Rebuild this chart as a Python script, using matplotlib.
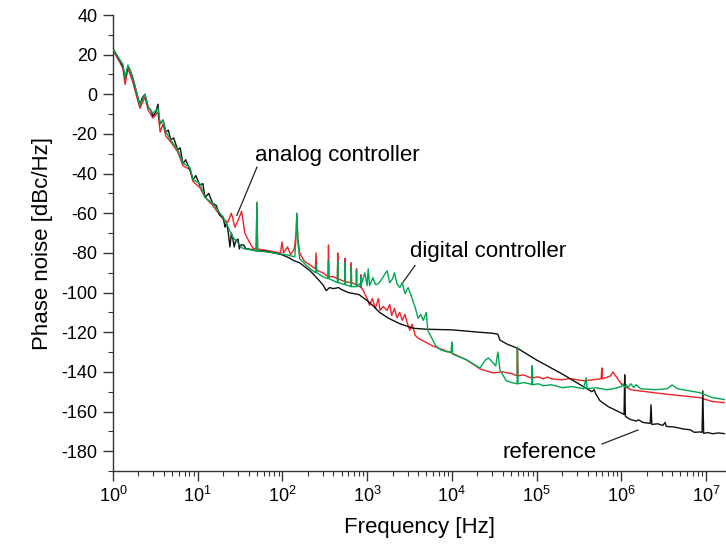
"""Phase noise of the reference vs. analog and digital PLL controllers."""

import math

import matplotlib
matplotlib.use("Agg")
import matplotlib.pyplot as plt
from matplotlib.ticker import FixedLocator, FuncFormatter, LogLocator, MultipleLocator, NullFormatter

plt.rcParams["font.family"] = ["Liberation Sans", "DejaVu Sans"]
plt.rcParams["mathtext.default"] = "regular"
plt.rcParams["axes.unicode_minus"] = False

# reference oscillator (black): (frequency in Hz, dBc/Hz)
reference = [
    (1, 23), (1.21, 17), (1.31, 14), (1.39, 8), (1.5, 14), (1.6, 12), (1.72, 8), (1.87, 2),
    (2.08, -5.5), (2.2, -2), (2.38, 0), (2.6, -6.5), (2.8, -8), (2.96, -11), (3.2, -9), (3.4, -5),
    (3.5, -12), (3.6, -15), (3.9, -13), (4.2, -19), (4.5, -18), (4.8, -23), (5.2, -22), (5.8, -28),
    (6.2, -27), (6.7, -35), (7.2, -33), (8.1, -38), (8.8, -43), (9.5, -41), (10.6, -46), (11.5, -45),
    (12.2, -52), (13.5, -50), (15, -55), (16.5, -56), (18.3, -61), (20, -62), (21, -67), (22, -65),
    (23, -70), (24, -77), (25, -70), (26, -73), (27, -77), (28, -74), (30, -73), (31, -78), (32, -76),
    (35, -76), (37, -78), (40, -78), (45, -78.5), (50, -79), (60, -79), (70, -79.5), (80, -80),
    (100, -81), (120, -82.5), (133, -83.7), (160, -85), (212, -89), (260, -93), (300, -96),
    (330, -99), (360, -97.5), (400, -98), (460, -97.5), (500, -98.5), (600, -100), (800, -101),
    (1000, -104), (1200, -107), (1400, -110), (1800, -113), (2430, -115.7), (3500, -118),
    (5000, -118.5), (10000, -118.8), (21000, -120), (30000, -120.5), (35000, -121), (37000, -124),
    (45000, -126), (59000, -128), (1e5, -134), (2e5, -141), (3e5, -145.5), (4.5e5, -150),
    (4.8e5, -149), (5e5, -151), (5.6e5, -154.5), (7e5, -157.5), (9.75e5, -160.5), (1.08e6, -161.5),
    (1.1e6, -141.5), (1.12e6, -162.5), (1.28e6, -164), (1.5e6, -164.8), (1.6e6, -164.2),
    (1.8e6, -165.5), (2.2e6, -166), (2.25e6, -156.6), (2.3e6, -166.5), (2.7e6, -166.2),
    (3.1e6, -167), (3.3e6, -165.5), (3.4e6, -167.5), (4.2e6, -167.8), (5.4e6, -168.8),
    (6.5e6, -169.2), (7.3e6, -170.5), (8.5e6, -170.3), (9.0e6, -170.5), (9.2e6, -149.6),
    (9.4e6, -171), (1.05e7, -170.6), (1.2e7, -171.2), (1.4e7, -170.8), (1.68e7, -171.2),
]

# analog controller (red)
analog = [
    (1, 22), (1.21, 16), (1.31, 13), (1.39, 5), (1.5, 13), (1.72, 6), (1.87, 0), (2.08, -7),
    (2.38, -1.5), (2.6, -8), (2.96, -12), (3.4, -9), (3.6, -19), (3.9, -15), (4.2, -21), (4.8, -24),
    (5.8, -29), (6.7, -36), (8.1, -38), (8.8, -44), (10.6, -47), (12.2, -52), (15, -56), (18.3, -61),
    (20, -63), (22.7, -64.5), (25, -60), (27.5, -67), (30, -63.5), (33, -59), (36, -70),
    (39.5, -73.5), (45, -77.7), (49, -78), (50, -54.5), (51, -78), (70, -79), (95, -80), (99, -74.5),
    (103, -80), (115, -77), (125, -81), (138, -78), (145, -70), (148, -60), (152, -72), (160, -80),
    (180, -84), (245, -88), (250, -80), (255, -88.8), (300, -90), (345, -92), (350, -76), (355, -92),
    (400, -92), (445, -93), (450, -80), (455, -93), (545, -94.5), (550, -82.7), (555, -94.5),
    (645, -95), (650, -85), (655, -95), (745, -96), (750, -88), (755, -96), (845, -97.5), (850, -91),
    (855, -97.5), (900, -99), (1000, -103), (1070, -106.5), (1150, -103), (1250, -108), (1360, -103),
    (1420, -109), (1550, -107), (1720, -109), (1850, -106), (1950, -111.6), (2100, -108),
    (2250, -112.7), (2430, -110), (2600, -114), (2800, -111), (2960, -115), (3100, -117.5),
    (3200, -119), (3400, -116), (3700, -121.6), (4000, -123), (6000, -127), (10000, -130.5),
    (15000, -134), (21500, -138.5), (30500, -140.5), (40000, -140), (52000, -141), (59000, -142),
    (59500, -128), (60500, -142), (70000, -141.5), (83000, -142.8), (88000, -143), (89000, -137),
    (90000, -143), (1.05e5, -142.5), (1.2e5, -143.5), (1.35e5, -142.6), (1.5e5, -143.5),
    (2e5, -144), (2.5e5, -143.4), (3.6e5, -144.5), (5.8e5, -143.5), (5.9e5, -138), (6e5, -143.5),
    (6.5e5, -143), (7.5e5, -142), (8e5, -140), (8.6e5, -142), (1.02e6, -146.5), (1.3e6, -149),
    (3e6, -151), (8.5e6, -153), (1.2e7, -155), (1.68e7, -155.5),
]

# digital controller (green)
digital = [
    (1, 22.5), (1.21, 17.3), (1.31, 15), (1.39, 8.2), (1.5, 14.8), (1.72, 8.2), (1.87, 2),
    (2.08, -5.5), (2.38, 0), (2.6, -6.5), (2.96, -9.5), (3.4, -7), (3.6, -14.6), (3.9, -13),
    (4.2, -19), (4.8, -23), (5.8, -28), (6.7, -34.6), (8.1, -37), (8.8, -43), (10.6, -45),
    (12.2, -52), (15, -55), (18.3, -60), (20, -62), (26, -72), (34, -77.7), (49, -79), (50, -54.5),
    (51, -79), (65, -79.5), (113, -81), (140, -82), (145, -72), (148, -60), (152, -74), (160, -83),
    (200, -87), (245, -90), (250, -86), (255, -90), (300, -92), (345, -93), (350, -84), (355, -93),
    (445, -95), (450, -84), (455, -95), (545, -96), (550, -85), (555, -96), (645, -97), (650, -87),
    (655, -97), (745, -97), (750, -89), (755, -97), (825, -95.5), (845, -97), (850, -92), (855, -96),
    (940, -90), (1000, -96.5), (1030, -88), (1070, -96.5), (1170, -92.5), (1260, -96),
    (1360, -95.5), (1500, -93), (1600, -91), (1720, -89), (1850, -95), (2000, -93), (2100, -90),
    (2250, -95.5), (2430, -97.5), (2600, -95), (2800, -100.5), (3050, -97.5), (3400, -103),
    (3700, -107.6), (4000, -113), (4300, -111), (4600, -114), (5000, -110), (5200, -119),
    (5800, -123), (6500, -127), (7500, -129), (9000, -130), (9800, -130), (10000, -125),
    (10200, -131), (15000, -134), (21500, -138), (25000, -134), (27000, -133), (30000, -135),
    (33000, -137), (35000, -130), (37000, -139), (44000, -144.5), (52000, -145.5), (59000, -146),
    (59500, -127.5), (60500, -146), (70000, -145.4), (83000, -146), (88000, -146.5), (89000, -137),
    (90000, -146.5), (1.05e5, -146), (1.2e5, -147), (1.5e5, -146.5), (2.03e5, -148),
    (2.6e5, -147.4), (3.6e5, -148.5), (3.85e5, -143), (3.95e5, -148.5), (5e5, -148),
    (6.8e5, -149), (8e5, -148.5), (1.0e6, -147.5), (1.05e6, -146), (1.1e6, -148), (1.15e6, -146.5),
    (1.2e6, -148), (1.3e6, -146), (1.4e6, -147.8), (1.5e6, -146.5), (1.7e6, -148.5),
    (2.5e6, -149), (3.5e6, -148.5), (4e6, -146.6), (4.6e6, -148.5), (8.5e6, -150.5),
    (1.2e7, -153), (1.68e7, -154),
]

fig = plt.figure(figsize=(7.26, 5.48), dpi=100)
ax = fig.add_axes([113 / 726, 1 - 471 / 548, 612 / 726, 456 / 548])

for data, color, z in ((analog, "#ec2227", 2), (reference, "#111111", 3), (digital, "#00a651", 4)):
    freq, db = zip(*data)
    ax.plot(freq, db, color=color, lw=1.0, zorder=z)

ax.set_xscale("log")
ax.set_xlim(1, 1.68e7)
ax.set_ylim(-190, 40)

ax.xaxis.set_major_locator(FixedLocator([10.0 ** k for k in range(8)]))
ax.xaxis.set_major_formatter(FuncFormatter(lambda v, _: r"$10^{%d}$" % round(math.log10(v))))
ax.xaxis.set_minor_locator(LogLocator(base=10, subs=range(2, 10), numticks=50))
ax.xaxis.set_minor_formatter(NullFormatter())
ax.yaxis.set_major_locator(FixedLocator(list(range(-180, 41, 20))))
ax.yaxis.set_minor_locator(MultipleLocator(10))

for side in ("top", "right"):
    ax.spines[side].set_visible(False)
for side in ("left", "bottom"):
    ax.spines[side].set_color("#333333")
    ax.spines[side].set_linewidth(1.0)

ax.tick_params(which="major", direction="out", length=7, width=1, color="#333333", labelsize=13, pad=4)
ax.tick_params(which="minor", direction="out", length=3.5, width=0.8, color="#333333")

ax.set_xlabel("Frequency [Hz]", fontsize=16, labelpad=8)
ax.set_ylabel("Phase noise [dBc/Hz]", fontsize=16, labelpad=6)

# callout labels with their pointer lines
ax.text(47.5, -30.8, "analog controller", fontsize=16, ha="left", va="center")
ax.plot([50, 29], [-36.8, -61.1], color="#222222", lw=0.9)
ax.text(3210, -79.3, "digital controller", fontsize=16, ha="left", va="center")
ax.plot([3675, 2580], [-86.4, -95.5], color="#222222", lw=0.9)
ax.text(39200, -180.9, "reference", fontsize=16, ha="left", va="center")
ax.plot([5.93e5, 1.58e6], [-176.4, -169.3], color="#222222", lw=0.9)

fig.savefig("out.png", dpi=100)
